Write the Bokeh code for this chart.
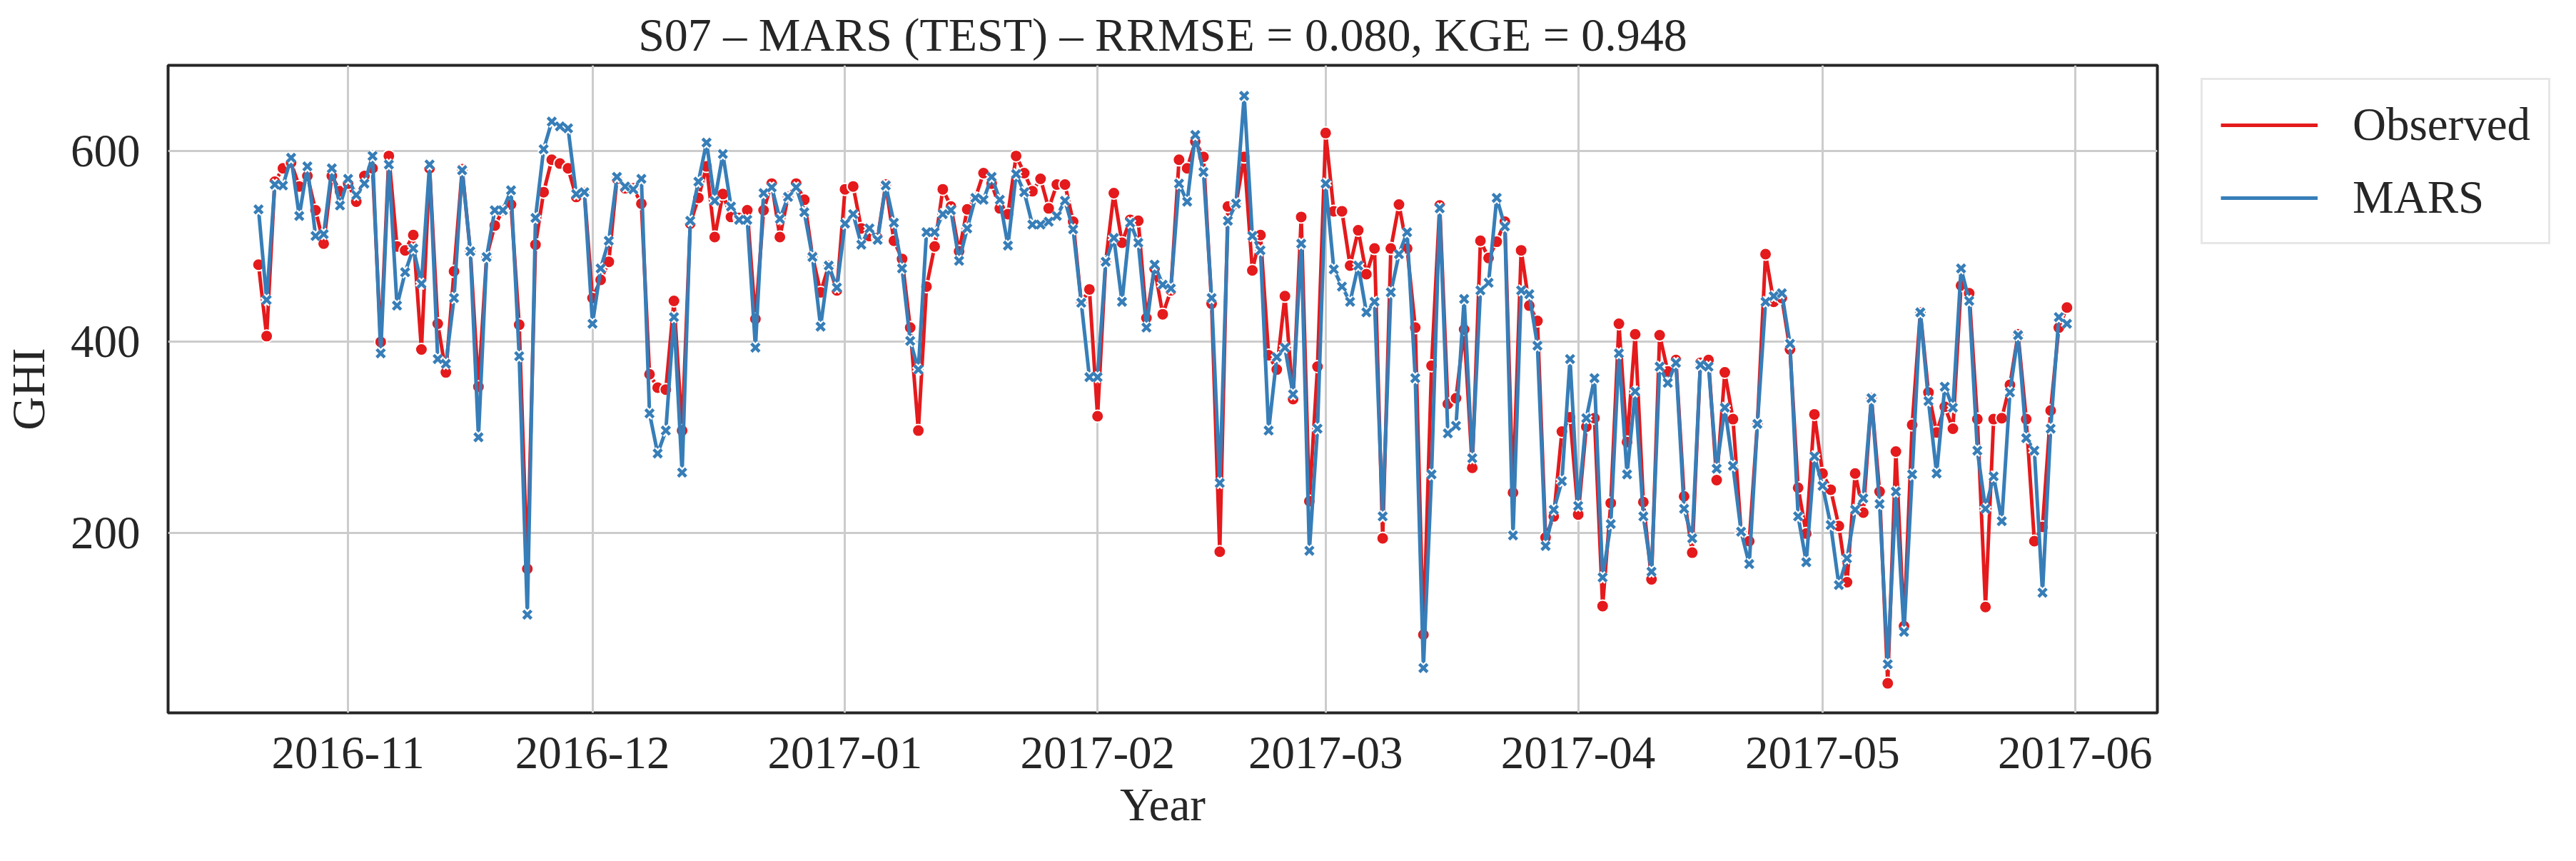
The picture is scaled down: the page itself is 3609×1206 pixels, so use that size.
import pandas as pd
from bokeh.plotting import figure
from bokeh.layouts import row
from bokeh.models import (ColumnDataSource, Range1d, Legend, LegendItem,
                          MonthsTicker, DatetimeTickFormatter, FixedTicker)
from bokeh.embed import file_html
from bokeh.resources import INLINE

# daily series, 2016-10-21 .. 2017-05-31
start_day = "2016-10-21"
end_day = "2017-05-31"

observed = [
    481, 406, 568, 582, 588, 563, 574, 538, 503, 574, 558, 566, 547, 574, 582, 400,
    595, 500, 496, 512, 392, 582, 419, 368, 474, 581, 495, 353, 489, 522, 538, 544,
    418, 162, 502, 557, 591, 587, 582, 552, 557, 446, 465, 484, 571, 561, 561, 545,
    366, 352, 350, 443, 307, 524, 551, 584, 510, 555, 531, 530, 538, 424, 538, 566,
    510, 552, 566, 549, 490, 452, 480, 454, 560, 563, 519, 511, 509, 565, 506, 487,
    415, 307, 458, 500, 560, 542, 495, 539, 551, 577, 566, 540, 534, 595, 577, 558,
    571, 540, 565, 565, 526, 441, 455, 322, 484, 556, 504, 528, 527, 425, 477, 429,
    454, 591, 582, 610, 594, 440, 180, 542, 545, 594, 475, 512, 386, 371, 448, 340,
    531, 233, 374, 619, 537, 537, 480, 517, 471, 498, 194, 498, 544, 498, 415, 93,
    375, 543, 335, 341, 413, 268, 506, 488, 505, 526, 242, 496, 438, 422, 195, 217,
    306, 321, 219, 311, 320, 123, 231, 419, 295, 408, 232, 151, 407, 369, 381, 238,
    179, 378, 381, 255, 368, 319, 201, 191, 314, 492, 442, 446, 392, 247, 199, 324,
    262, 245, 207, 148, 262, 221, 341, 243, 42, 285, 102, 313, 431, 347, 305, 332,
    309, 459, 451, 319, 122, 319, 320, 355, 408, 319, 191, 206, 328, 415, 436,
]

mars = [
    539, 444, 565, 564, 593, 532, 584, 511, 513, 582, 543, 571, 554, 566, 595, 388,
    586, 438, 473, 498, 461, 586, 382, 377, 446, 580, 495, 300, 489, 538, 538, 559,
    385, 114, 530, 602, 631, 626, 624, 555, 557, 419, 477, 506, 573, 563, 560, 571,
    325, 283, 307, 426, 263, 527, 568, 609, 548, 597, 542, 528, 528, 394, 556, 562,
    529, 552, 562, 536, 489, 416, 480, 457, 524, 534, 502, 519, 507, 564, 525, 477,
    401, 371, 515, 515, 534, 538, 485, 519, 551, 549, 573, 549, 501, 576, 557, 523,
    523, 526, 532, 548, 518, 441, 363, 363, 484, 509, 442, 525, 504, 415, 481, 460,
    456, 566, 547, 617, 578, 446, 252, 527, 545, 658, 511, 496, 307, 384, 394, 345,
    503, 181, 309, 566, 476, 458, 442, 480, 431, 442, 217, 452, 492, 515, 362, 58,
    261, 540, 304, 312, 445, 278, 454, 462, 551, 521, 197, 454, 450, 396, 186, 224,
    254, 382, 228, 320, 362, 153, 209, 388, 261, 348, 217, 159, 374, 357, 378, 225,
    194, 376, 374, 267, 331, 270, 201, 167, 314, 442, 448, 451, 398, 217, 169, 280,
    249, 208, 145, 173, 224, 236, 341, 230, 62, 243, 96, 261, 431, 338, 262, 353,
    331, 477, 443, 286, 225, 259, 212, 347, 407, 299, 286, 137, 309, 426, 419,
]

y_ticks = [200, 400, 600]
title_text = "S07 \u2013 MARS (TEST) \u2013 RRMSE = 0.080, KGE = 0.948"
series_names = ["Observed", "MARS"]

FONT = "Liberation Serif"
TXT = "#262626"
RED = "#e41a1c"
BLUE = "#377eb8"

H = 1190
MAIN_W, LEG_W = 3042, 548

dates = pd.date_range(start_day, end_day, freq="D")
src = ColumnDataSource(dict(date=dates, obs=observed, mars=mars))

pad = pd.Timedelta(days=11.1)
p = figure(width=MAIN_W, height=H, x_axis_type="datetime",
           output_backend="svg", toolbar_location=None,
           x_range=Range1d(dates[0] - pad, dates[-1] + pad),
           y_range=Range1d(11, 690),
           min_border_left=232, min_border_right=20,
           min_border_top=91, min_border_bottom=192)

#lines and markers
p.line("date", "obs", source=src, line_color=RED, line_width=5)
p.scatter("date", "obs", source=src, marker="circle", size=17,
          fill_color=RED, line_color="white", line_width=2)
p.line("date", "mars", source=src, line_color=BLUE, line_width=5)
p.scatter("date", "mars", source=src, marker="x", size=16,
          line_color="white", line_width=9)
p.scatter("date", "mars", source=src, marker="x", size=16,
          line_color=BLUE, line_width=4.5)

#title
p.title.text = title_text
p.title.align = "center"
p.title.text_font = FONT
p.title.text_font_size = "66px"
p.title.text_font_style = "normal"
p.title.text_color = TXT
p.title.standoff = 14

#axes
p.xaxis.ticker = MonthsTicker(months=list(range(12)))
p.xaxis.formatter = DatetimeTickFormatter(months="%Y-%m", days="%Y-%m")
p.yaxis.ticker = FixedTicker(ticks=y_ticks)
p.xaxis.axis_label = "Year"
p.yaxis.axis_label = "GHI"
for ax in (p.xaxis, p.yaxis):
    ax.axis_line_color = None
    ax.major_tick_line_color = None
    ax.minor_tick_line_color = None
    ax.major_tick_out = 0
    ax.major_label_text_font = FONT
    ax.major_label_text_font_size = "65px"
    ax.major_label_text_color = TXT
    ax.axis_label_text_font = FONT
    ax.axis_label_text_font_size = "65px"
    ax.axis_label_text_font_style = "normal"
    ax.axis_label_text_color = TXT
p.xaxis.major_label_standoff = 34
p.yaxis.major_label_standoff = 39
p.xaxis.axis_label_standoff = 12
p.yaxis.axis_label_standoff = 20

p.grid.grid_line_color = "#cccccc"
p.grid.grid_line_width = 3
p.outline_line_color = TXT
p.outline_line_width = 4
p.background_fill_color = "white"
p.border_fill_color = "white"

# legend lives in a small blank figure to the right of the plot
# (its frame gets lined up with the main frame by the row layout)
lg = figure(width=LEG_W, height=H, output_backend="svg", toolbar_location=None,
            x_range=Range1d(0, 1), y_range=Range1d(0, 1),
            x_axis_location=None, y_axis_location=None,
            min_border=0)
lg.outline_line_color = None
lg.grid.visible = False
lg.border_fill_color = "white"
lg.background_fill_color = "white"
# stand-in renderers for the legend swatches, kept outside the visible range
r_obs = lg.line(x=[5, 6], y=[5, 6], line_color=RED, line_width=5)
r_mars = lg.line(x=[5, 6], y=[5, 6], line_color=BLUE, line_width=5)

legend = Legend(items=[LegendItem(label=series_names[0], renderers=[r_obs]),
                       LegendItem(label=series_names[1], renderers=[r_mars])],
                location=(41, 656), margin=0, padding=25,
                glyph_width=136, glyph_height=70, label_height=70,
                label_standoff=49, spacing=27)
legend.label_text_font = FONT
legend.label_text_font_size = "65px"
legend.label_text_color = TXT
legend.border_line_color = "#d0d0d0"
legend.border_line_width = 3
legend.background_fill_color = "white"
lg.add_layout(legend)

layout = row(p, lg)
open("out.html", "w").write(file_html(layout, INLINE))
